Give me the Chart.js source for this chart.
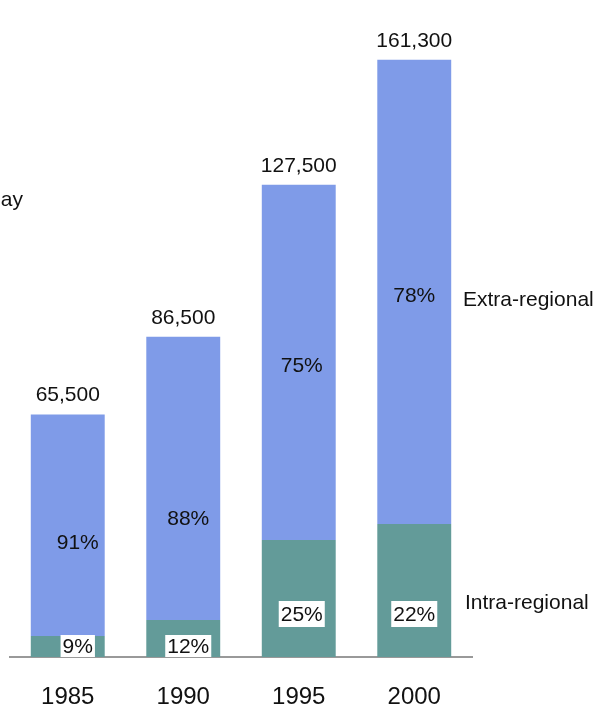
<!DOCTYPE html>
<html>
<head>
<meta charset="utf-8">
<script src="https://cdn.jsdelivr.net/npm/chart.js@4/dist/chart.umd.min.js"></script>
<style>
  html, body { margin: 0; padding: 0; background: #fff; overflow: hidden; }
  #wrap { width: 600px; height: 704px; position: relative; }
</style>
</head>
<body>
<div id="wrap"><canvas id="chart"></canvas></div>
<script>
const years = ["1985", "1990", "1995", "2000"];
const totals = [65500, 86500, 127500, 161300];
const intraValues = [5700, 10000, 31600, 35900];
const extraValues = [59800, 76500, 95900, 125400];
const intraShare = ["9%", "12%", "25%", "22%"];
const extraShare = ["91%", "88%", "75%", "78%"];

const FONT = "'Liberation Sans', Arial, sans-serif";
const BLUE = "#7f9be8";
const TEAL = "#639b99";

// hand-placed labels in the original: where each label sits inside its segment
const extraLabelFrac = [0.42, 0.355, 0.49, 0.49];
const labelShiftX = [10, 5, 3, 0];
const intraLabelLift = [11, 11, 43, 43];

const labelsPlugin = {
  id: "barLabels",
  afterDatasetsDraw(chart) {
    const { ctx } = chart;
    const intraMeta = chart.getDatasetMeta(0);
    const extraMeta = chart.getDatasetMeta(1);
    const yScale = chart.scales.y;
    ctx.save();
    ctx.fillStyle = "#111";
    ctx.font = `21px ${FONT}`;
    ctx.textAlign = "center";

    totals.forEach((total, i) => {
      const bar = extraMeta.data[i];
      const top = yScale.getPixelForValue(total);
      ctx.textBaseline = "alphabetic";
      ctx.fillText(total.toLocaleString("en-US"), bar.x, top - 13);

      // extra-regional share
      const segTop = extraMeta.data[i].y;
      const segBottom = intraMeta.data[i].y;
      const y = segBottom - (segBottom - segTop) * extraLabelFrac[i];
      ctx.textBaseline = "middle";
      ctx.fillText(extraShare[i], bar.x + labelShiftX[i], y);

      // intra-regional share in a white box
      const base = yScale.getPixelForValue(0);
      const cy = base - intraLabelLift[i];
      const h = i < 2 ? 22 : 26;
      const w = ctx.measureText(intraShare[i]).width + 4;
      ctx.fillStyle = "#fff";
      ctx.fillRect(bar.x + labelShiftX[i] - w / 2, cy - h / 2, w, h);
      ctx.fillStyle = "#111";
      ctx.fillText(intraShare[i], bar.x + labelShiftX[i], cy + 1);
    });

    ctx.textAlign = "left";
    ctx.textBaseline = "middle";
    ctx.fillText("Extra-regional", 463, 300);
    ctx.fillText("Intra-regional", 465, 603);
    ctx.textAlign = "right";
    ctx.fillText("day", 23, 200);
    ctx.restore();
  },
};

new Chart(document.querySelector("#chart"), {
  type: "bar",
  data: {
    labels: years,
    datasets: [
      {
        label: "Intra-regional",
        data: intraValues,
        backgroundColor: TEAL,
        categoryPercentage: 1,
        barPercentage: 0.64,
      },
      {
        label: "Extra-regional",
        data: extraValues,
        backgroundColor: BLUE,
        categoryPercentage: 1,
        barPercentage: 0.64,
      },
    ],
  },
  options: {
    responsive: true,
    maintainAspectRatio: false,
    animation: false,
    layout: { padding: { top: 20, left: 10, right: 128, bottom: 0 } },
    plugins: {
      legend: { display: false },
      tooltip: { enabled: false },
    },
    scales: {
      x: {
        stacked: true,
        z: 1,
        grid: { display: false, drawTicks: false },
        border: { display: true, color: "#999", width: 2 },
        ticks: {
          color: "#111",
          font: { family: FONT, size: 24 },
          padding: 26,
        },
        afterFit(scale) {
          scale.height = 47;
        },
      },
      y: {
        stacked: true,
        display: false,
        min: 0,
        max: 172000,
      },
    },
  },
  plugins: [labelsPlugin],
});
</script>
</body>
</html>
